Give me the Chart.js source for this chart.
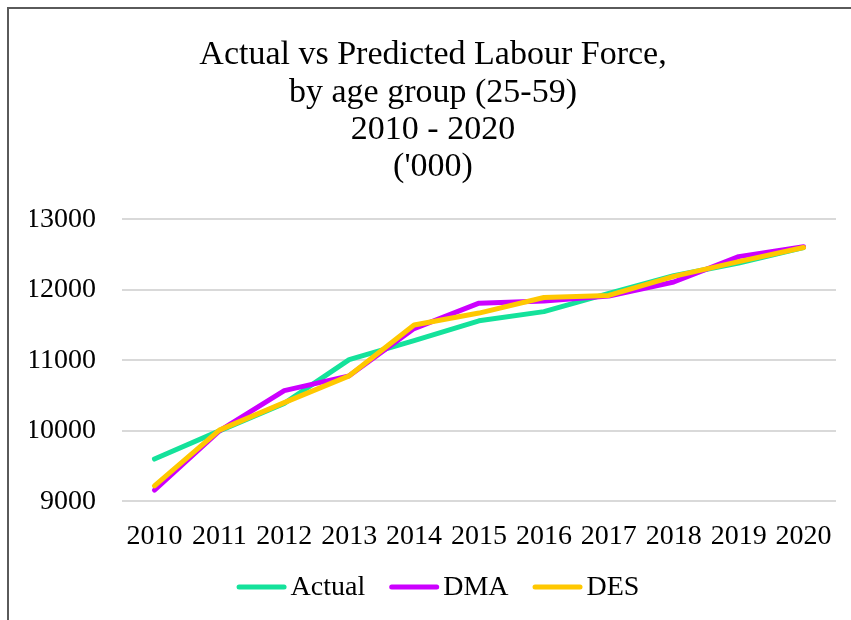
<!DOCTYPE html>
<html>
<head>
<meta charset="utf-8">
<title>Actual vs Predicted Labour Force</title>
<script src="https://cdn.jsdelivr.net/npm/chart.js@4"></script>
<style>
	html, body {
		margin: 0;
		padding: 0;
		background: #fff;
		overflow: hidden;
	}
	.frame {
		position: absolute;
		left: 7px;
		top: 7px;
		width: 842px;
		height: 611px;
		border-top: 2px solid #5a5a5a;
		border-left: 2px solid #5a5a5a;
	}
	#labourChart {
		display: block;
	}
</style>
</head>
<body>
<div class="frame">
	<canvas id="labourChart" width="842" height="611"></canvas>
</div>
<script>
// ===== DATA =====
const years = ['2010', '2011', '2012', '2013', '2014', '2015', '2016', '2017', '2018', '2019', '2020'];
const actual = [9600, 10000, 10390, 11010, 11280, 11560, 11690, 11950, 12200, 12380, 12600];
const dma = [9160, 10000, 10570, 10780, 11450, 11810, 11840, 11910, 12110, 12470, 12610];
const des = [9220, 10010, 10400, 10780, 11500, 11670, 11890, 11920, 12190, 12400, 12600];
const yTicks = [9000, 10000, 11000, 12000, 13000];

const titleLines = ['Actual vs Predicted Labour Force,', 'by age group (25-59)', '2010 - 2020', "('000)"];

// ===== CHART =====
const serif = '"Liberation Serif", "Times New Roman", serif';
const ctx = document.getElementById('labourChart').getContext('2d');

// lower order is drawn on top: DES over DMA over Actual
function lineSeries(label, data, color, order) {
	return {
		label: label,
		data: data,
		borderColor: color,
		backgroundColor: color,
		borderWidth: 5,
		borderCapStyle: 'round',
		borderJoinStyle: 'round',
		pointRadius: 0,
		pointHoverRadius: 0,
		tension: 0,
		fill: false,
		order: order
	};
}

// Excel-like legend: short line swatch, text tight against it
const lineLegend = {
	id: 'lineLegend',
	afterDraw(chart, args, opts) {
		const c = chart.ctx;
		const sets = chart.data.datasets;
		c.save();
		c.font = '28px ' + serif;
		c.textBaseline = 'middle';
		c.textAlign = 'left';
		const widths = sets.map(ds => opts.swatch + opts.textGap + c.measureText(ds.label).width);
		const total = widths.reduce((a, b) => a + b, 0) + opts.itemGap * (sets.length - 1);
		let x = chart.width / 2 + opts.shiftX - total / 2;
		const y = chart.height - opts.fromBottom;
		sets.forEach((ds, i) => {
			c.strokeStyle = ds.borderColor;
			c.lineWidth = 5;
			c.lineCap = 'round';
			c.beginPath();
			c.moveTo(x + 2.5, y);
			c.lineTo(x + opts.swatch - 2.5, y);
			c.stroke();
			c.fillStyle = '#000';
			c.fillText(ds.label, x + opts.swatch + opts.textGap, y + 1);
			x += widths[i] + opts.itemGap;
		});
		c.restore();
	}
};

new Chart(ctx, {
	type: 'line',
	data: {
		labels: years,
		datasets: [
			lineSeries('Actual', actual, '#14e29b', 2),
			lineSeries('DMA', dma, '#cc00ff', 1),
			lineSeries('DES', des, '#ffc800', 0)
		]
	},
	plugins: [lineLegend],
	options: {
		responsive: false,
		animation: false,
		layout: {
			padding: { left: 21, right: 15, top: 0, bottom: 57 }
		},
		plugins: {
			title: {
				display: true,
				text: titleLines,
				color: '#000',
				font: { family: serif, size: 34, weight: 'normal', lineHeight: 1.09 },
				padding: { top: 28, bottom: 34 }
			},
			legend: { display: false },
			lineLegend: {
				swatch: 50,
				textGap: 4,
				itemGap: 24,
				shiftX: 8,
				fromBottom: 33
			},
			tooltip: { enabled: false }
		},
		scales: {
			x: {
				offset: true,
				grid: { display: false },
				border: { display: false },
				ticks: {
					color: '#000',
					font: { family: serif, size: 28 },
					padding: 10,
					maxRotation: 0,
					autoSkip: false
				}
			},
			y: {
				min: yTicks[0],
				max: yTicks[yTicks.length - 1],
				afterBuildTicks: function(axis) {
					axis.ticks = yTicks.map(v => ({ value: v }));
				},
				afterFit: function(axis) {
					axis.width = 92;
				},
				grid: {
					color: '#d9d9d9',
					lineWidth: 2,
					drawTicks: false
				},
				border: { display: false },
				ticks: {
					color: '#000',
					font: { family: serif, size: 28 },
					padding: 26,
					callback: function(value) {
						return String(value);
					}
				}
			}
		}
	}
});
</script>
</body>
</html>
